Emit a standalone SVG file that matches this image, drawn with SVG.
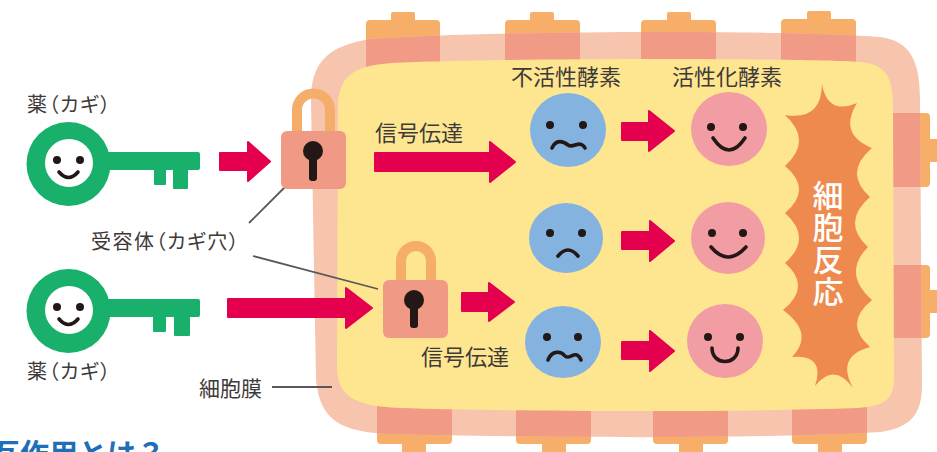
<svg xmlns="http://www.w3.org/2000/svg" width="937" height="452" viewBox="0 0 937 452">
  <defs>
    <style>
      .lbl { font-family: "Noto Sans CJK JP", "Noto Sans", sans-serif; fill: #3E3A39; }
      .tight { font-feature-settings: "palt" 1; }
      .cap { fill: #F6AE69; }
      .rcp { fill: #F19B87; }
      .arrow { fill: #E5004F; stroke: #E5004F; stroke-width: 2; stroke-linejoin: round; }
      .feat { fill: none; stroke: #231815; stroke-width: 3.6; stroke-linecap: round; }
      .eye { fill: #231815; }
      .blue { fill: #85B3E0; }
      .pink { fill: #F29CA4; }
      .key { fill: #18B06B; }
      .shackle { fill: none; stroke: #F5AD6A; stroke-width: 10; }
      .body { fill: #F09A86; }
      .hole { fill: #231815; }
      .leader { stroke: #595757; stroke-width: 1.8; fill: none; }
    </style>
    <path id="cellOuter" d="M 311 100 C 311 62 328 46 370 39 C 500 30 800 30 880 37 C 910 41 920 60 920 100 L 922 385 C 922 415 910 428 880 432 C 750 440 500 437 390 434 C 340 432 320 420 316 380 Z"/>
    <clipPath id="membraneClip">
      <use href="#cellOuter"/>
    </clipPath>
  </defs>

  <rect width="937" height="452" fill="#FFFFFF"/>

  <!-- cell: receptor caps, membrane, receptor bodies, cytoplasm -->
  <g id="cell">
    <g id="receptor-caps">
      <rect class="cap" x="366" y="20" width="74" height="24" rx="4"/>
      <rect class="cap" x="391" y="12" width="24" height="12" rx="2"/>
      <rect class="cap" x="505" y="20" width="75" height="24" rx="4"/>
      <rect class="cap" x="530" y="12" width="24" height="12" rx="2"/>
      <rect class="cap" x="641" y="20" width="75" height="24" rx="4"/>
      <rect class="cap" x="667" y="12" width="24" height="12" rx="2"/>
      <rect class="cap" x="781" y="19" width="75" height="24" rx="4"/>
      <rect class="cap" x="807" y="11" width="24" height="12" rx="2"/>
      <rect class="cap" x="900" y="113" width="30" height="74" rx="4"/>
      <rect class="cap" x="926" y="139" width="14" height="23" rx="2"/>
      <rect class="cap" x="900" y="265" width="30" height="73" rx="4"/>
      <rect class="cap" x="926" y="290" width="14" height="23" rx="2"/>
      <rect class="cap" x="377" y="420" width="75" height="24" rx="4"/>
      <rect class="cap" x="402" y="438" width="24" height="18" rx="2"/>
      <rect class="cap" x="516" y="420" width="75" height="24" rx="4"/>
      <rect class="cap" x="542" y="438" width="24" height="18" rx="2"/>
      <rect class="cap" x="653" y="420" width="75" height="24" rx="4"/>
      <rect class="cap" x="679" y="438" width="24" height="18" rx="2"/>
      <rect class="cap" x="792" y="420" width="75" height="24" rx="4"/>
      <rect class="cap" x="818" y="438" width="24" height="18" rx="2"/>
    </g>
    <use href="#cellOuter" fill="#F7C5AE"/>
    <g id="receptor-bodies" clip-path="url(#membraneClip)">
      <rect class="rcp" x="366" y="20" width="74" height="60"/>
      <rect class="rcp" x="505" y="20" width="75" height="60"/>
      <rect class="rcp" x="641" y="20" width="75" height="60"/>
      <rect class="rcp" x="781" y="20" width="75" height="60"/>
      <rect class="rcp" x="880" y="113" width="60" height="74"/>
      <rect class="rcp" x="880" y="265" width="60" height="73"/>
      <rect class="rcp" x="377" y="395" width="75" height="60"/>
      <rect class="rcp" x="516" y="395" width="75" height="60"/>
      <rect class="rcp" x="653" y="395" width="75" height="60"/>
      <rect class="rcp" x="792" y="395" width="75" height="60"/>
    </g>
    <path id="cytoplasm" fill="#FEE691" d="M 338 110 C 338 76 352 66 392 63 C 500 58 800 58 860 62 C 885 64 893 76 893 106 L 894 378 C 894 400 884 406 858 408 C 700 413 500 411 400 408 C 352 406 338 395 337 368 Z"/>
  </g>

  <!-- cellular response burst -->
  <g id="response">
    <path fill="#EF8A4E" d="M 822 84 Q 827.5 115.5 857 103 Q 838 134.5 872 148 Q 843 172.5 870 197 Q 841 222 868 247 Q 842 273.5 872 300 Q 843 323.5 870 347 Q 835.5 356.5 853 388 Q 834 362 815 386 Q 825.5 354.5 792 357 Q 815 333.5 783 310 Q 812 286.5 785 263 Q 813 238 785 213 Q 813 189.5 785 166 Q 813 140.5 785 115 Q 821.5 121 822 84 Z"/>
    <text x="828" y="180" writing-mode="vertical-rl" font-family="'Noto Sans CJK JP', sans-serif" font-size="31" font-weight="500" letter-spacing="1" fill="#FFFFFF">細胞反応</text>
  </g>

  <!-- enzymes -->
  <g id="enzyme-inactive-1">
    <ellipse class="blue" cx="568" cy="130" rx="38" ry="37"/>
    <circle class="eye" cx="550" cy="125" r="4"/>
    <circle class="eye" cx="583" cy="125" r="4"/>
    <path class="feat" d="M 552 148 C 556 139 563 141 568 145 C 573 149 580 139 585 148"/>
  </g>
  <g id="enzyme-active-1">
    <ellipse class="pink" cx="729" cy="129" rx="38" ry="37"/>
    <circle class="eye" cx="711" cy="127" r="4"/>
    <circle class="eye" cx="743" cy="127" r="4"/>
    <path class="feat" d="M 713 138 Q 729 162 745 138"/>
  </g>
  <g id="enzyme-inactive-2">
    <ellipse class="blue" cx="566" cy="238" rx="37" ry="35"/>
    <circle class="eye" cx="550" cy="233" r="4"/>
    <circle class="eye" cx="582" cy="233" r="4"/>
    <path class="feat" d="M 558 256 Q 568 244 578 256"/>
  </g>
  <g id="enzyme-active-2">
    <ellipse class="pink" cx="728" cy="238" rx="37" ry="36"/>
    <circle class="eye" cx="712" cy="233" r="4"/>
    <circle class="eye" cx="743" cy="233" r="4"/>
    <path class="feat" d="M 711 247 Q 728 267 746 247"/>
  </g>
  <g id="enzyme-inactive-3">
    <ellipse class="blue" cx="563" cy="342" rx="38" ry="36"/>
    <circle class="eye" cx="547" cy="337" r="4"/>
    <circle class="eye" cx="578" cy="337" r="4"/>
    <path class="feat" d="M 548 360 C 552 350 561 351 565 356 C 569 361 576 348 581 360"/>
  </g>
  <g id="enzyme-active-3">
    <ellipse class="pink" cx="725" cy="341" rx="38" ry="37"/>
    <circle class="eye" cx="708" cy="337" r="4"/>
    <circle class="eye" cx="740" cy="337" r="4"/>
    <path class="feat" d="M 712 348 C 712 366 738 366 738 348"/>
  </g>

  <!-- connectors -->
  <g id="connectors">
    <path class="arrow" d="M 220 153 H 248 V 142 L 270 161.5 L 248 181 V 170 H 220 Z"/>
    <path class="arrow" d="M 375 153 H 490 V 142 L 515 162 L 490 182 V 171 H 375 Z"/>
    <path class="arrow" d="M 228 299 H 346 V 288 L 372 308 L 346 328 V 317 H 228 Z"/>
    <path class="arrow" d="M 462 293 H 489 V 283 L 514 302 L 489 321 V 311 H 462 Z"/>
    <path class="arrow" d="M 622 123 H 649 V 111 L 674 131 L 649 151 V 140 H 622 Z"/>
    <path class="arrow" d="M 622 232 H 650 V 221 L 674 241 L 650 261 V 249 H 622 Z"/>
    <path class="arrow" d="M 622 342 H 650 V 331 L 674 351 L 650 371 V 359 H 622 Z"/>
    <line class="leader" x1="249" y1="223" x2="292" y2="180"/>
    <line class="leader" x1="253" y1="256" x2="378" y2="289"/>
    <line class="leader" x1="272" y1="387" x2="332" y2="387"/>
  </g>

  <!-- receptors (locks) -->
  <g id="receptor-1">
    <path class="shackle" d="M 297 136 V 110 A 16.5 16.5 0 0 1 330 110 V 136"/>
    <rect class="body" x="281" y="131" width="65" height="58" rx="6"/>
    <circle class="hole" cx="313" cy="151" r="10"/>
    <rect class="hole" x="309" y="151" width="8" height="30" rx="3"/>
  </g>
  <g id="receptor-2">
    <path class="shackle" d="M 401 284 V 261 A 15 15 0 0 1 431 261 V 284"/>
    <rect class="body" x="383" y="280" width="65" height="58" rx="6"/>
    <circle class="hole" cx="414" cy="300" r="10"/>
    <rect class="hole" x="410" y="300" width="8" height="28" rx="3"/>
  </g>

  <!-- drugs (keys) -->
  <g id="drug-1">
    <circle class="key" cx="68.5" cy="164" r="42"/>
    <rect class="key" x="100" y="152" width="100" height="18" rx="2"/>
    <rect class="key" x="154" y="160" width="12" height="25" rx="1"/>
    <rect class="key" x="173" y="160" width="15" height="29" rx="1"/>
    <circle cx="69" cy="163" r="24" fill="#FFFFFF"/>
    <circle class="eye" cx="57" cy="160" r="4"/>
    <circle class="eye" cx="80" cy="160" r="4"/>
    <path class="feat" d="M 59 172 Q 68.5 183 78 172"/>
  </g>
  <g id="drug-2">
    <circle class="key" cx="68.5" cy="311" r="42"/>
    <rect class="key" x="100" y="299" width="100" height="18" rx="2"/>
    <rect class="key" x="153" y="307" width="13" height="25" rx="1"/>
    <rect class="key" x="174" y="307" width="16" height="29" rx="1"/>
    <circle cx="69" cy="310" r="24" fill="#FFFFFF"/>
    <circle class="eye" cx="57" cy="307" r="4"/>
    <circle class="eye" cx="80" cy="307" r="4"/>
    <path class="feat" d="M 59 319 Q 68.5 330 78 319"/>
  </g>

  <!-- labels -->
  <g id="labels">
    <text class="lbl tight" x="27" y="112" font-size="20" letter-spacing="1.5">薬（カギ）</text>
    <text class="lbl tight" x="27" y="379" font-size="20" letter-spacing="1.5">薬（カギ）</text>
    <text class="lbl tight" x="91" y="249" font-size="20" letter-spacing="1.5">受容体（カギ穴）</text>
    <text class="lbl" x="199" y="396" font-size="21">細胞膜</text>
    <text class="lbl" x="375" y="141" font-size="22">信号伝達</text>
    <text class="lbl" x="421" y="365" font-size="22">信号伝達</text>
    <text class="lbl" x="511" y="85" font-size="22">不活性酵素</text>
    <text class="lbl" x="672" y="85" font-size="22">活性化酵素</text>
    <text x="-38" y="465" font-family="'Noto Sans CJK JP', sans-serif" font-size="29" font-weight="700" fill="#1E6EB8">相互作用とは？</text>
  </g>
</svg>
